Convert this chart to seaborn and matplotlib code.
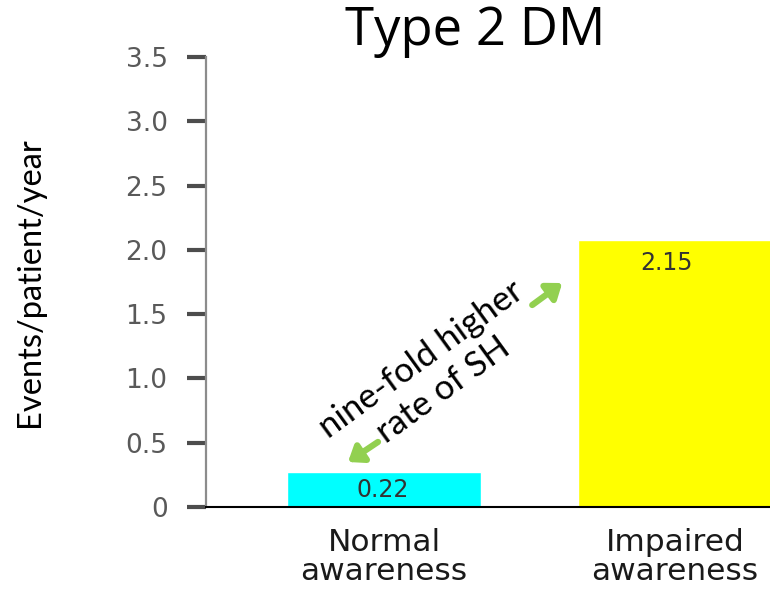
import matplotlib
matplotlib.use("Agg")
import matplotlib.pyplot as plt
import seaborn as sns
import pandas as pd

categories = ["Normal\nawareness", "Impaired\nawareness"]
bar_heights = [0.27, 2.08]
value_labels = ["0.22", "2.15"]
bar_colors = ["#00FFFF", "#FFFF00"]
yticks = [0, 0.5, 1.0, 1.5, 2.0, 2.5, 3.0, 3.5]
ytick_labels = ["0", "0.5", "1.0", "1.5", "2.0", "2.5", "3.0", "3.5"]
title = "Type 2 DM"
ylabel = "Events/patient/year"
annotation = "nine-fold higher\nrate of SH"

sns.set_theme(style="white")
plt.rcParams["font.family"] = ["DejaVu Sans"]

df = pd.DataFrame({"group": categories, "rate": bar_heights})

fig = plt.figure(figsize=(7.7, 5.9), dpi=100)
ax = fig.add_axes([206 / 770, 1 - 507 / 590, 1 - 206 / 770, (507 - 57) / 590])

sns.barplot(data=df, x="group", y="rate", hue="group", palette=bar_colors,
            width=0.667, legend=False, ax=ax, saturation=1)

ax.set_xlim(-0.612, 1.326)
ax.set_ylim(0, 3.5)
ax.set_yticks(yticks)
ax.set_yticklabels(ytick_labels, fontsize=19, color="#595959")
ax.tick_params(axis="y", left=True, length=13.7, width=3, color="#4d4d4d", pad=14, direction="out")
ax.tick_params(axis="x", bottom=False, length=0, pad=15)
for lab in ax.get_xticklabels():
    lab.set_fontsize(22.5)
    lab.set_color("#1a1a1a")
    lab.set_linespacing(1.02)

ax.set_xlabel("")
ax.set_ylabel(ylabel, fontsize=23.5, family=["Lato"], color="#000000", labelpad=58)

for s in ["top", "right"]:
    ax.spines[s].set_visible(False)
ax.spines["left"].set_color("#8c8c8c")
ax.spines["left"].set_linewidth(1.6)
ax.spines["bottom"].set_color("#000000")
ax.spines["bottom"].set_linewidth(1.5)

# value labels inside the bars
for i, (h, txt) in enumerate(zip(bar_heights, value_labels)):
    ax.annotate(txt, xy=(i, h), xytext=(-1 if i == 0 else -6, -13 if i == 0 else -17),
                textcoords="offset points",
                ha="center", va="center", fontsize=17, color="#333333")

fig.text(475 / 770, 1 - 31 / 590, title, fontsize=38, family=["Open Sans"],
         ha="center", va="center", color="#000000")

ax.text(0.165, 1.03, annotation, rotation=36, rotation_mode="anchor",
        ha="center", va="center", multialignment="center",
        fontsize=25, family=["Lato"], color="#000000", linespacing=1.25)

arrow_kw = dict(arrowstyle="-|>,head_length=0.6,head_width=0.45", lw=4.5,
                color="#92D050", mutation_scale=14, shrinkA=0, shrinkB=0)
ax.annotate("", xy=(0.612, 1.742), xytext=(0.509, 1.571), arrowprops=arrow_kw)
ax.annotate("", xy=(-0.124, 0.350), xytext=(-0.021, 0.506), arrowprops=arrow_kw)

fig.savefig("out.png", dpi=100)
